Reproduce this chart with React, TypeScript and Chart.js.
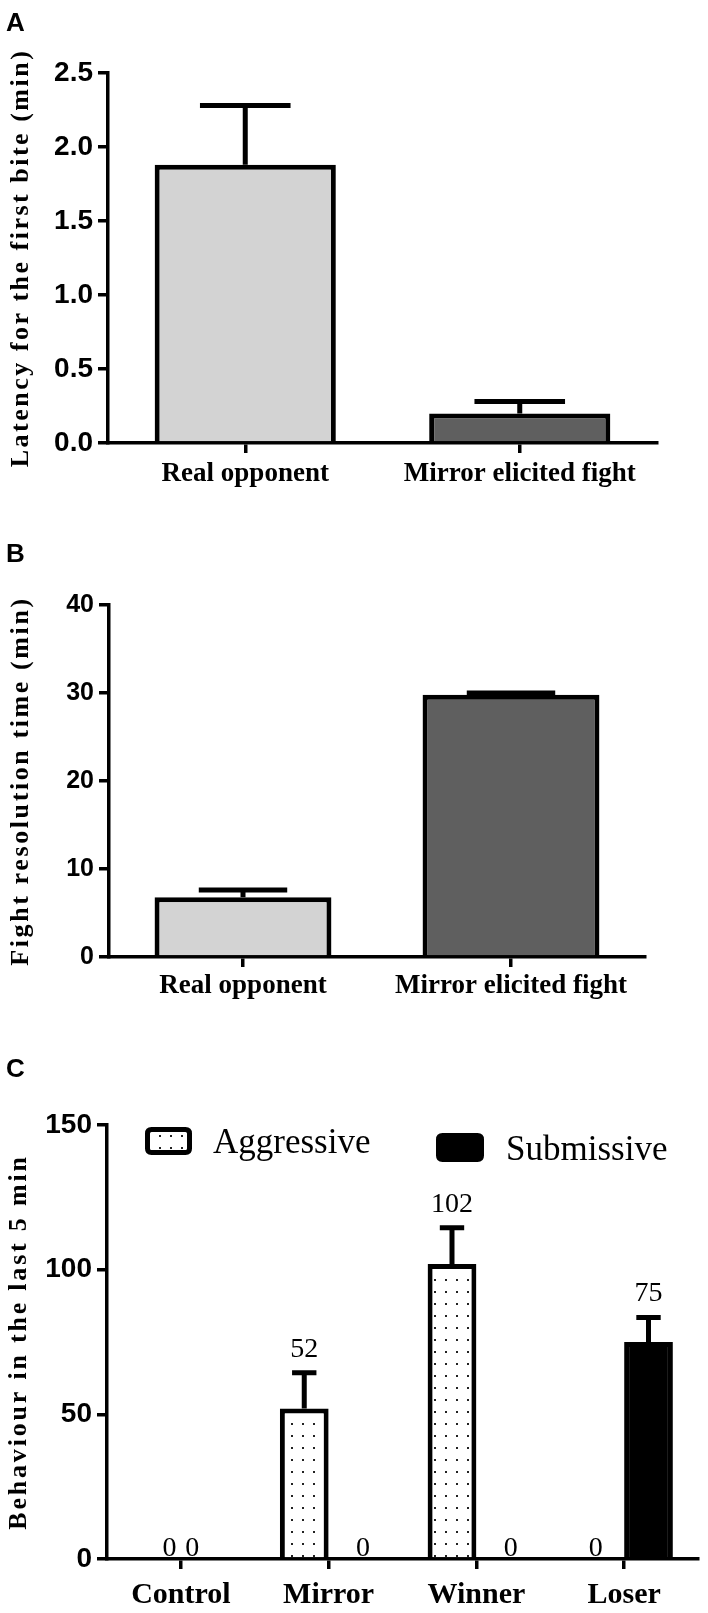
import React, { useEffect, useRef } from 'react';
import { Chart, registerables } from 'chart.js';

Chart.register(...registerables);

// ---------- Data ----------
// Panel A
const groupsAB = ['Real opponent', 'Mirror elicited fight'];
const latencyMean = [1.88, 0.2];
const latencyUpper = [2.28, 0.28];
// Panel B
const resolutionMean = [6.8, 29.8];
const resolutionUpper = [7.6, 30.0];
// Panel C
const groupsC = ['Control', 'Mirror', 'Winner', 'Loser'];
const seriesNames = ['Aggressive', 'Submissive'];
const aggressiveMean = [0, 52, 102, 0];
const aggressiveUpper = [null, 64.4, 114.5, null];
const submissiveMean = [0, 0, 0, 75];
const submissiveUpper = [null, null, null, 83.5];

const titleA = 'Latency for the first bite (min)';
const titleB = 'Fight resolution time (min)';
const titleC = 'Behaviour in the last 5 min';

const LIGHT = '#d3d3d3';
const DARK = '#5f5f5f';
const SERIF = '"Liberation Serif", "Times New Roman", serif';
const SANS = '"Liberation Sans", Arial, sans-serif';

// ---------- Plugins ----------
const errorBarPlugin = {
  id: 'errorBars',
  afterDatasetsDraw(chart: any) {
    const ctx = chart.ctx;
    const yScale = chart.scales.y;
    chart.data.datasets.forEach((ds: any, di: number) => {
      const upper = ds.errorUpper;
      if (!upper) return;
      const meta = chart.getDatasetMeta(di);
      meta.data.forEach((el: any, i: number) => {
        const u = upper[i];
        if (u == null) return;
        const p = el.getProps(['x', 'y', 'width'], true);
        const yErr = yScale.getPixelForValue(u);
        const half = p.width / 4;
        ctx.save();
        ctx.strokeStyle = '#000';
        ctx.lineWidth = 5;
        ctx.beginPath();
        ctx.moveTo(p.x, p.y);
        ctx.lineTo(p.x, yErr);
        ctx.moveTo(p.x - half, yErr);
        ctx.lineTo(p.x + half, yErr);
        ctx.stroke();
        ctx.restore();
      });
    });
  },
};

const yTitlePlugin = {
  id: 'yTitle',
  afterDraw(chart: any, _args: any, opts: any) {
    if (!opts || !opts.text) return;
    const { ctx, chartArea } = chart;
    ctx.save();
    ctx.translate(opts.x, (chartArea.top + chartArea.bottom) / 2);
    ctx.rotate(-Math.PI / 2);
    ctx.font = opts.font;
    try {
      (ctx as any).letterSpacing = opts.spacing;
    } catch (e) {}
    ctx.textAlign = 'center';
    ctx.textBaseline = 'middle';
    ctx.fillStyle = '#000';
    ctx.fillText(opts.text, 0, 0);
    ctx.restore();
  },
};

const valueLabelPlugin = {
  id: 'valueLabels',
  afterDatasetsDraw(chart: any, _args: any, opts: any) {
    if (!opts || !opts.enabled) return;
    const ctx = chart.ctx;
    const yScale = chart.scales.y;
    ctx.save();
    ctx.font = opts.font;
    ctx.fillStyle = '#000';
    ctx.textAlign = 'center';
    ctx.textBaseline = 'alphabetic';
    chart.data.datasets.forEach((ds: any, di: number) => {
      const meta = chart.getDatasetMeta(di);
      const shifts = (opts.zeroShift && opts.zeroShift[di]) || [];
      meta.data.forEach((el: any, i: number) => {
        const v = ds.data[i];
        const up = ds.errorUpper ? ds.errorUpper[i] : null;
        let y;
        let x = el.x;
        if (v === 0) {
          y = yScale.getPixelForValue(0) - 3;
          x += shifts[i] || 0;
        } else y = yScale.getPixelForValue(up != null ? up : v) - 16;
        ctx.fillText(String(v), x, y);
      });
    });
    ctx.restore();
  },
};

function roundRectPath(ctx: CanvasRenderingContext2D, x: number, y: number, w: number, h: number, r: number) {
  ctx.beginPath();
  ctx.moveTo(x + r, y);
  ctx.lineTo(x + w - r, y);
  ctx.quadraticCurveTo(x + w, y, x + w, y + r);
  ctx.lineTo(x + w, y + h - r);
  ctx.quadraticCurveTo(x + w, y + h, x + w - r, y + h);
  ctx.lineTo(x + r, y + h);
  ctx.quadraticCurveTo(x, y + h, x, y + h - r);
  ctx.lineTo(x, y + r);
  ctx.quadraticCurveTo(x, y, x + r, y);
  ctx.closePath();
}

const boxLegendPlugin = {
  id: 'boxLegend',
  afterDraw(chart: any, _args: any, opts: any) {
    if (!opts || !opts.items) return;
    const ctx = chart.ctx;
    opts.items.forEach((it: any, k: number) => {
      const ds = chart.data.datasets[k];
      ctx.save();
      roundRectPath(ctx, it.x + 2.5, it.y + 2.5, it.w - 5, it.h - 5, 4);
      ctx.fillStyle = ds.backgroundColor;
      ctx.fill();
      ctx.lineWidth = 5;
      ctx.strokeStyle = '#000';
      ctx.lineJoin = 'round';
      ctx.stroke();
      ctx.font = opts.font;
      ctx.fillStyle = '#000';
      ctx.textAlign = 'left';
      ctx.textBaseline = 'alphabetic';
      ctx.fillText(ds.label, it.tx, it.ty);
      ctx.restore();
    });
  },
};

// ---------- helpers ----------
function axisCommon(tickFont: any, padding: number) {
  return {
    border: { display: true, color: '#000', width: 3.5 },
    grid: {
      display: true,
      drawOnChartArea: false,
      drawTicks: true,
      tickLength: 10,
      tickWidth: 3.5,
      lineWidth: 3.5,
      tickColor: '#000',
      color: '#000',
    },
    ticks: { color: '#000', font: tickFont, padding },
  };
}

function makeConfig(p: any) {
  const xBase = axisCommon({ family: SERIF, weight: 'bold', size: p.xFont }, p.xPad);
  const yBase = axisCommon({ family: SANS, weight: 'bold', size: p.yFont }, 5);
  return {
    type: 'bar',
    data: { labels: p.labels, datasets: p.datasets },
    plugins: [errorBarPlugin, yTitlePlugin, valueLabelPlugin, boxLegendPlugin],
    options: {
      responsive: false,
      animation: false,
      devicePixelRatio: 1,
      layout: { padding: { top: p.area.top, right: p.width - p.area.right, bottom: 0, left: 0 } },
      datasets: { bar: { categoryPercentage: p.catPct, barPercentage: p.barPct } },
      scales: {
        x: {
          ...xBase,
          offset: true,
          grid: { ...xBase.grid, offset: false },
          afterFit: (s: any) => {
            s.height = p.height - p.area.bottom;
          },
        },
        y: {
          ...yBase,
          min: p.yMin,
          max: p.yMax,
          ticks: {
            ...yBase.ticks,
            stepSize: p.step,
            callback: (v: any) => (p.decimals ? Number(v).toFixed(p.decimals) : String(v)),
          },
          afterFit: (s: any) => {
            s.width = p.area.left;
          },
        },
      },
      plugins: {
        legend: { display: false },
        tooltip: { enabled: false },
        yTitle: { text: p.title, x: p.titleX, font: `bold 26px ${SERIF}`, spacing: p.spacing },
        valueLabels: p.valueLabels || { enabled: false },
        boxLegend: p.legend || { items: null },
      },
    },
  };
}

function makeDotPattern(ctx: CanvasRenderingContext2D) {
  const c = document.createElement('canvas');
  c.width = 11;
  c.height = 12;
  const p = c.getContext('2d')!;
  p.fillStyle = '#fff';
  p.fillRect(0, 0, 11, 12);
  p.fillStyle = '#222';
  p.fillRect(5, 5, 2, 2);
  return ctx.createPattern(c, 'repeat');
}

const W = 708;
const H_A = 500;
const H_B = 510;
const H_C = 603;
const TOP_B = 500;
const TOP_C = 1010;

export default function App() {
  const refA = useRef<HTMLCanvasElement>(null);
  const refB = useRef<HTMLCanvasElement>(null);
  const refC = useRef<HTMLCanvasElement>(null);

  useEffect(() => {
    const charts: Chart[] = [];
    const barStyle = { borderColor: '#000', borderWidth: 5 };

    charts.push(
      new Chart(
        refA.current!,
        makeConfig({
          width: W,
          height: H_A,
          area: { left: 108, top: 73, right: 657, bottom: 443 },
          labels: groupsAB,
          datasets: [
            { data: latencyMean, errorUpper: latencyUpper, backgroundColor: [LIGHT, DARK], ...barStyle },
          ],
          catPct: 1,
          barPct: 0.66,
          yMin: 0,
          yMax: 2.5,
          step: 0.5,
          decimals: 1,
          yFont: 28,
          xFont: 27,
          xPad: 5,
          title: titleA,
          titleX: 21,
          spacing: '2.5px',
        }) as any
      )
    );

    charts.push(
      new Chart(
        refB.current!,
        makeConfig({
          width: W,
          height: H_B,
          area: { left: 109, top: 105, right: 645, bottom: 457 },
          labels: groupsAB,
          datasets: [
            { data: resolutionMean, errorUpper: resolutionUpper, backgroundColor: [LIGHT, DARK], ...barStyle },
          ],
          catPct: 1,
          barPct: 0.66,
          yMin: 0,
          yMax: 40,
          step: 10,
          decimals: 0,
          yFont: 25,
          xFont: 27,
          xPad: 3,
          title: titleB,
          titleX: 21,
          spacing: '2.6px',
        }) as any
      )
    );

    const ctxC = refC.current!.getContext('2d')!;
    const dots = makeDotPattern(ctxC);
    charts.push(
      new Chart(
        refC.current!,
        makeConfig({
          width: W,
          height: H_C,
          area: { left: 107, top: 115, right: 698, bottom: 549 },
          labels: groupsC,
          datasets: [
            { label: seriesNames[0], data: aggressiveMean, errorUpper: aggressiveUpper, backgroundColor: dots, ...barStyle },
            { label: seriesNames[1], data: submissiveMean, errorUpper: submissiveUpper, backgroundColor: '#000', ...barStyle },
          ],
          catPct: 0.66,
          barPct: 1,
          yMin: 0,
          yMax: 150,
          step: 50,
          decimals: 0,
          yFont: 28,
          xFont: 30,
          xPad: 8,
          title: titleC,
          titleX: 19,
          spacing: '2.8px',
          valueLabels: {
            enabled: true,
            font: `28px ${SERIF}`,
            zeroShift: [
              [13, 0, 0, -4],
              [-13, 10, 10, 0],
            ],
          },
          legend: {
            font: `35px ${SERIF}`,
            items: [
              { x: 145, y: 117, w: 47, h: 28, tx: 213, ty: 143 },
              { x: 436, y: 123, w: 48, h: 29, tx: 506, ty: 150 },
            ],
          },
        }) as any
      )
    );

    return () => charts.forEach((c) => c.destroy());
  }, []);

  const letter = (t: string, top: number) => (
    <div
      style={{
        position: 'absolute',
        left: 6,
        top,
        font: `bold 26px ${SANS}`,
        lineHeight: '26px',
        color: '#000',
      }}
    >
      {t}
    </div>
  );

  const canvasStyle = (top: number, h: number): React.CSSProperties => ({
    position: 'absolute',
    left: 0,
    top,
    width: W,
    height: h,
  });

  return (
    <div style={{ position: 'absolute', left: 0, top: 0, width: W, height: 1613, background: '#fff', overflow: 'hidden' }}>
      <canvas ref={refA} width={W} height={H_A} style={canvasStyle(0, H_A)} />
      <canvas ref={refB} width={W} height={H_B} style={canvasStyle(TOP_B, H_B)} />
      <canvas ref={refC} width={W} height={H_C} style={canvasStyle(TOP_C, H_C)} />
      {letter('A', 9)}
      {letter('B', 540)}
      {letter('C', 1055)}
    </div>
  );
}
